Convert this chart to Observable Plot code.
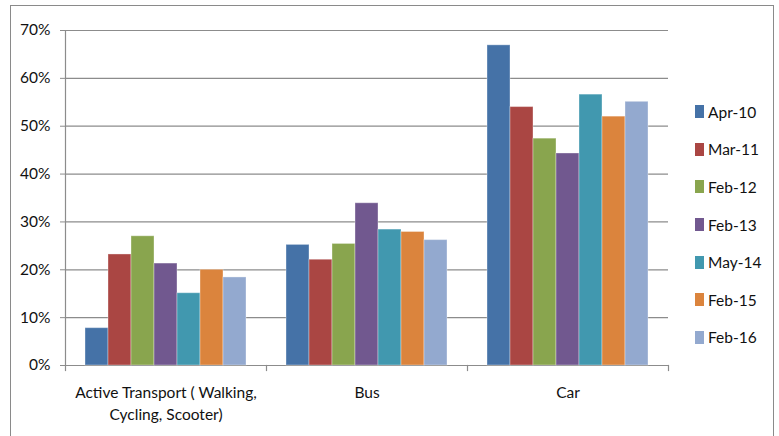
<!DOCTYPE html>
<html>
<head>
<meta charset="utf-8">
<script src="https://cdn.jsdelivr.net/npm/d3@7"></script>
<script src="https://cdn.jsdelivr.net/npm/@observablehq/plot@0.6"></script>
<style>
  html, body { margin: 0; padding: 0; background: #fff; }
  #wrap { position: relative; width: 779px; height: 436px; overflow: hidden; font-family: Lato, sans-serif; }
  #border { position: absolute; left: 10px; top: 5px; width: 764px; height: 440px; border: 1.5px solid #8a8a8a; box-sizing: border-box; }
  #chart { position: absolute; left: 0; top: 0; }
  #legend { position: absolute; left: 695px; top: 93px; }
  .row { display: flex; align-items: center; height: 37.6px; font-size: 15.5px; color: #111; }
  .sw { width: 9px; height: 13px; margin-right: 4px; }
</style>
</head>
<body>
<div id="wrap">
  <div id="border"></div>
  <div id="chart"></div>
  <div id="legend"></div>
</div>
<script>
const categories = ["Active Transport", "Bus", "Car"];
const categoryLabels = ["Active Transport ( Walking,\nCycling, Scooter)", "Bus", "Car"];
const series = ["Apr-10", "Mar-11", "Feb-12", "Feb-13", "May-14", "Feb-15", "Feb-16"];
const activeValues = [7.8, 23.2, 27.0, 21.3, 15.1, 20.0, 18.4];
const busValues = [25.2, 22.1, 25.4, 33.9, 28.4, 27.9, 26.2];
const carValues = [66.9, 54.0, 47.4, 44.3, 56.6, 52.0, 55.1];
const yTicks = [0, 10, 20, 30, 40, 50, 60, 70];
const colors = ["#4572A7", "#AA4643", "#89A54E", "#71588F", "#4198AF", "#DB843D", "#93A9CF"];

const valuesByCategory = [activeValues, busValues, carValues];
const data = [];
categories.forEach((c, i) => {
  series.forEach((s, j) => data.push({category: c, series: s, value: valuesByCategory[i][j]}));
});
const labelOf = new Map(categories.map((c, i) => [c, categoryLabels[i]]));

const font = 'Lato, sans-serif';
const chart = Plot.plot({
  width: 779,
  height: 436,
  marginTop: 30,
  marginBottom: 71,
  marginLeft: 64,
  marginRight: 110,
  style: {fontFamily: font, fontSize: "15.5px", color: "#111", background: "transparent", overflow: "visible"},
  fx: {domain: categories, padding: 0, label: null},
  x: {domain: series, paddingInner: 0, paddingOuter: 0.78, axis: null},
  y: {domain: [0, 70], label: null},
  color: {domain: series, range: colors},
  marks: [
    Plot.ruleY(yTicks, {stroke: "#8c8c8c", strokeWidth: 1.2}),
    Plot.barY(data, {fx: "category", x: "series", y: "value", fill: "series", stroke: "#ffffff", strokeOpacity: 0.35, strokeWidth: 1}),
    Plot.axisY({ticks: yTicks, tickFormat: d => d + "%", tickSize: 5, tickPadding: 10, stroke: "#8c8c8c", fontSize: 15.5, label: null}),
    Plot.frame({anchor: "left", facetAnchor: "left", stroke: "#8c8c8c", strokeWidth: 1.2}),
    Plot.frame({anchor: "left", stroke: "#8c8c8c", strokeWidth: 1.2, insetTop: 335, insetBottom: -5}),
    Plot.frame({anchor: "right", facetAnchor: "right", stroke: "#8c8c8c", strokeWidth: 1.2, insetTop: 335, insetBottom: -5}),
    Plot.axisFx({anchor: "bottom", tickSize: 0, tickPadding: 17, tickFormat: d => labelOf.get(d), fontSize: 15.5, lineHeight: 1.4, label: null})
  ]
});
document.getElementById("chart").appendChild(chart);

const legend = d3.select("#legend");
series.forEach((s, i) => {
  const row = legend.append("div").attr("class", "row");
  row.append("div").attr("class", "sw").style("background", colors[i]);
  row.append("span").text(s);
});
</script>
</body>
</html>
